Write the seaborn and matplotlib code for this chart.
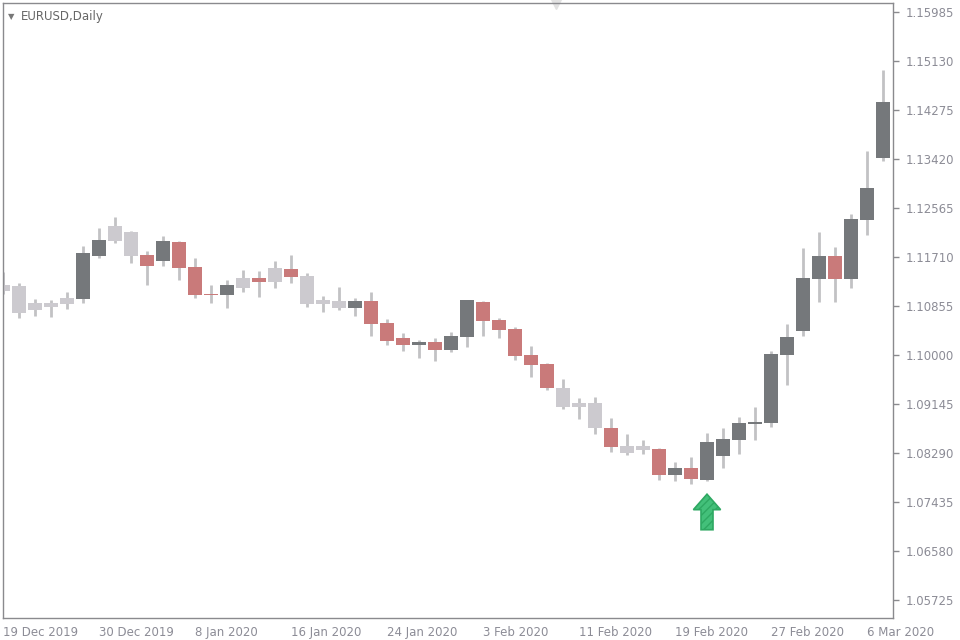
import numpy as np
import pandas as pd
import seaborn as sns
import matplotlib
matplotlib.use('Agg')
import matplotlib.pyplot as plt
from matplotlib.patches import FancyArrow

sns.set_style('white')
plt.rcParams['font.family'] = ['DejaVu Sans']

# daily candles, d = up (dark), r = down (red), l = light
opens = [1.1122, 1.1120, 1.1091, 1.1091, 1.1099, 1.1098, 1.1173, 1.1225, 1.1215, 1.1174,
         1.1164, 1.1197, 1.1153, 1.1106, 1.1105, 1.1134, 1.1134, 1.1152, 1.1150, 1.1138,
         1.1096, 1.1094, 1.1082, 1.1094, 1.1056, 1.1030, 1.1023, 1.1023, 1.1009, 1.1031,
         1.1092, 1.1061, 1.1045, 1.1000, 1.0984, 1.0942, 1.0916, 1.0916, 1.0873, 1.0841,
         1.0841, 1.0836, 1.0791, 1.0803, 1.0782, 1.0824, 1.0852, 1.0880, 1.0881, 1.1000,
         1.1042, 1.1133, 1.1173, 1.1133, 1.1236, 1.1344]
closes = [1.1112, 1.1073, 1.1078, 1.1084, 1.1089, 1.1178, 1.1201, 1.1199, 1.1173, 1.1155,
          1.1199, 1.1152, 1.1105, 1.1105, 1.1122, 1.1117, 1.1127, 1.1127, 1.1136, 1.1089,
          1.1089, 1.1082, 1.1094, 1.1054, 1.1024, 1.1017, 1.1017, 1.1009, 1.1033, 1.1096,
          1.1059, 1.1044, 1.0998, 1.0983, 1.0942, 1.0909, 1.0909, 1.0873, 1.0839, 1.0829,
          1.0834, 1.0791, 1.0803, 1.0784, 1.0848, 1.0853, 1.0881, 1.0883, 1.1002, 1.1031,
          1.1134, 1.1173, 1.1133, 1.1237, 1.1291, 1.1441]
highs = [1.1145, 1.1126, 1.1098, 1.1096, 1.1110, 1.1190, 1.1222, 1.1241, 1.1216, 1.1181,
         1.1208, 1.1199, 1.1169, 1.1122, 1.1131, 1.1148, 1.1146, 1.1164, 1.1174, 1.1143,
         1.1103, 1.1119, 1.1099, 1.1110, 1.1063, 1.1038, 1.1026, 1.1030, 1.1040, 1.1096,
         1.1094, 1.1065, 1.1049, 1.1016, 1.0986, 1.0958, 1.0925, 1.0927, 1.0890, 1.0862,
         1.0852, 1.0838, 1.0813, 1.0822, 1.0864, 1.0873, 1.0892, 1.0909, 1.1007, 1.1054,
         1.1187, 1.1215, 1.1188, 1.1246, 1.1356, 1.1497]
lows = [1.1106, 1.1065, 1.1068, 1.1066, 1.1080, 1.1091, 1.1169, 1.1195, 1.1160, 1.1122,
        1.1155, 1.1131, 1.1099, 1.1091, 1.1082, 1.1110, 1.1101, 1.1117, 1.1126, 1.1084,
        1.1075, 1.1078, 1.1068, 1.1033, 1.1017, 1.1007, 1.0995, 1.0989, 1.1005, 1.1014,
        1.1033, 1.1030, 1.0991, 1.0962, 1.0939, 1.0906, 1.0888, 1.0862, 1.0831, 1.0825,
        1.0827, 1.0782, 1.0780, 1.0775, 1.0780, 1.0803, 1.0827, 1.0852, 1.0874, 1.0948,
        1.1033, 1.1092, 1.1092, 1.1117, 1.1209, 1.1339]
kinds = ['l', 'l', 'l', 'l', 'l', 'd', 'd', 'l', 'l', 'r', 'd', 'r', 'r', 'r', 'd', 'l', 'r', 'l', 'r', 'l',
         'l', 'l', 'd', 'r', 'r', 'r', 'd', 'r', 'd', 'd', 'r', 'r', 'r', 'r', 'r', 'l', 'l', 'l', 'r', 'l',
         'l', 'r', 'd', 'r', 'd', 'd', 'd', 'd', 'd', 'd', 'd', 'd', 'r', 'd', 'd', 'd']
date_labels = ['19 Dec 2019', '30 Dec 2019', '8 Jan 2020', '16 Jan 2020', '24 Jan 2020',
               '3 Feb 2020', '11 Feb 2020', '19 Feb 2020', '27 Feb 2020', '6 Mar 2020']
price_ticks = [1.15985, 1.15130, 1.14275, 1.13420, 1.12565, 1.11710, 1.10855, 1.10000,
               1.09145, 1.08290, 1.07435, 1.06580, 1.05725]

df = pd.DataFrame({'open': opens, 'close': closes, 'high': highs, 'low': lows, 'kind': kinds})
df['idx'] = np.arange(len(df))
palette = {'d': '#75787b', 'r': '#c97a7a', 'l': '#cccacf'}
wick = '#c2c2c4'
axis_c = '#8a8a8e'
text_c = '#8c8c96'

fig = plt.figure(figsize=(9.6, 6.4), dpi=100)
ax = fig.add_axes([3 / 960, 22 / 640, 890 / 960, 615 / 640])

ax.vlines(df['idx'], df['low'], df['high'], color=wick, linewidth=2, zorder=1)
bottom = df[['open', 'close']].min(axis=1)
height = (df['open'] - df['close']).abs().clip(lower=0.00012)
ax.bar(df['idx'], height, bottom=bottom, width=0.9,
       color=[palette[k] for k in df['kind']], linewidth=0, zorder=2)

# arrow under the low
ax.add_patch(FancyArrow(44, 1.0695, 0, 0.0062, width=0.75, head_width=1.7,
                        head_length=0.0027, length_includes_head=True,
                        facecolor='#43c07a', edgecolor='#2ea862', linewidth=1.2,
                        hatch='////', zorder=3))

ax.set_xlim(0, 55.625)
ax.set_ylim(1.0541, 1.1614)
ax.yaxis.tick_right()
ax.set_yticks(price_ticks)
ax.set_yticklabels(['%.5f' % p for p in price_ticks])
ax.set_xticks(np.arange(0, 55, 6))
ax.set_xticklabels(date_labels, ha='left')
ax.tick_params(axis='both', colors=axis_c, labelcolor=text_c, labelsize=8.5,
               length=4, width=1, direction='out', pad=2)
ax.tick_params(axis='y', pad=5)
for s in ax.spines.values():
    s.set_color(axis_c)
    s.set_linewidth(1)

ax.text(0.006, 0.985, '\u25bc', transform=ax.transAxes, fontsize=6, color='#777777', va='top')
ax.text(0.02, 0.988, 'EURUSD,Daily', transform=ax.transAxes, fontsize=8.5, color='#666666', va='top')
ax.plot([553 / 890], [0.998], marker='v', markersize=7, color='#e2e2e2',
        transform=ax.transAxes, clip_on=False)

fig.savefig('out.png', dpi=100, facecolor='white')
